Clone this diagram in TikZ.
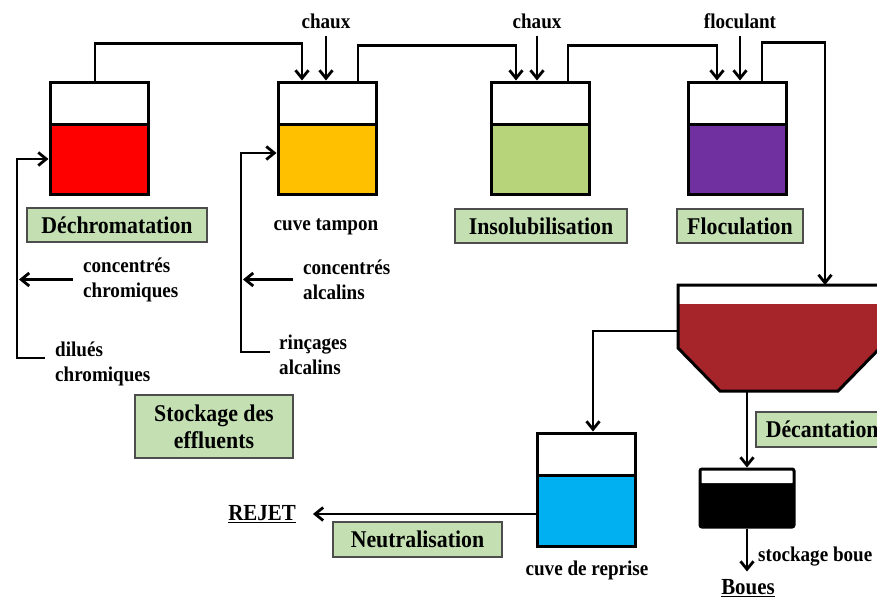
\documentclass[tikz,border=0pt]{standalone}
\usepackage{fontspec}
\setmainfont{Liberation Serif}[FakeStretch=0.91]
\usetikzlibrary{arrows.meta,calc}
\definecolor{cred}{HTML}{FF0000}
\definecolor{corange}{HTML}{FFC000}
\definecolor{clgreen}{HTML}{B8D47A}
\definecolor{cpurple}{HTML}{7030A0}
\definecolor{cbrown}{HTML}{A5252A}
\definecolor{cblue}{HTML}{00B0F0}
\definecolor{boxgreen}{HTML}{C4E0B3}
\definecolor{boxedge}{HTML}{4D4D4D}
\begin{document}
\begin{tikzpicture}[x=1pt,y=-1pt,
  tank/.style={draw,line width=3pt,minimum width=98pt,minimum height=112pt,inner sep=0pt,
    path picture={\fill[#1] ([yshift=-42pt]path picture bounding box.north west) rectangle (path picture bounding box.south east);
      \draw[line width=3pt] ([yshift=-42pt]path picture bounding box.north west) -- ([yshift=-42pt]path picture bounding box.north east);}},
  sludgetank/.style={draw,fill=black,line width=3pt,rounded corners=2pt,minimum width=94pt,minimum height=58pt,inner sep=0pt,
    path picture={\fill[white] (path picture bounding box.north west) rectangle ([yshift=-14pt]path picture bounding box.north east);}},
  lbl/.style={font=\fontsize{21}{25}\selectfont\bfseries,inner sep=0pt,align=left},
  procbox/.style={draw=boxedge,fill=boxgreen,line width=1.5pt,font=\fontsize{24}{27}\selectfont\bfseries,inner sep=0pt,align=center,minimum height=34pt},
  pipe/.style={line width=2.8pt},
  arr/.style={pipe,-{Straight Barb[length=8pt,width=13pt]}}]
\useasboundingbox (0,0) rectangle (877,602);
\clip (0,0) rectangle (877,602);

% tanks
\node[tank=cred] (t1) at (99,138) {};
\node[tank=corange] (t2) at (327,138) {};
\node[tank=clgreen] (t3) at (540.5,138) {};
\node[tank=cpurple] (t4) at (737.5,138) {};
\node[tank=cblue,minimum height=113pt] (t5) at (586,489.5) {};
\node[sludgetank] (sl) at (747,498) {};

% decanter
\fill[cbrown] (678,304) -- (678,348) -- (720,391) -- (838,391) -- (880,348) -- (880,304) -- cycle;
\draw[line width=3pt] (678,285) -- (678,348) -- (720,391) -- (838,391) -- (880,348) -- (880,285) -- cycle;
\coordinate (decin) at (825,285);
\coordinate (decleft) at (678,331);
\coordinate (decbot) at (747,391);

% reagent labels
\node[lbl] (ch1) at (326,21) {chaux};
\node[lbl] (ch2) at (537,21) {chaux};
\node[lbl] (flo) at (740,21) {floculant};
\draw[arr] ([yshift=-7pt]ch1.south) -- (ch1.south |- t2.north);
\draw[arr] ([yshift=-7pt]ch2.south) -- (ch2.south |- t3.north);
\draw[arr] ([yshift=-7pt]flo.south) -- (flo.south |- t4.north);

% pipes between tanks
\draw[arr] ([xshift=-4pt]t1.north) -- ++(0,-37) -| ([xshift=-25pt]t2.north);
\draw[arr] ([xshift=31pt]t2.north) -- ++(0,-35) -| ([xshift=-24.5pt]t3.north);
\draw[arr] ([xshift=27.5pt]t3.north) -- ++(0,-35) -| ([xshift=-20.5pt]t4.north);
\draw[arr] ([xshift=24.5pt]t4.north) -- ++(0,-38) -| (decin);
\draw[arr] (decleft) -| ([xshift=7pt]t5.north);
\draw[arr] (decbot) -- (decbot |- sl.north);

% process boxes
\node[procbox,minimum width=180pt] (dech) at (117,225) {Déchromatation};
\node[procbox,minimum width=172pt] (insol) at (541,226) {Insolubilisation};
\node[procbox,minimum width=126pt] (floc) at (740,226) {Floculation};
\node[procbox,minimum width=158pt,minimum height=63pt] (stock) at (214,426.5) {Stockage des\\effluents};
\node[procbox,anchor=west,text width=140pt,align=left,inner xsep=10pt,minimum height=35pt] (decant) at (755,429.5) {Décantation};
\node[procbox,minimum width=169pt,minimum height=35pt] (neutr) at (417.5,539.5) {Neutralisation};

% text labels
\node[lbl] (ctamp) at (326,227) {cuve tampon};
\node[lbl,anchor=west] (cc) at (83,279.5) {concentrés\\chromiques};
\node[lbl,anchor=west] (dc) at (55,363.5) {dilués\\chromiques};
\node[lbl,anchor=west] (ca) at (303,279.5) {concentrés\\alcalins};
\node[lbl,anchor=west] (ra) at (279,354.5) {rinçages\\alcalins};
\node[lbl] (crep) at (587,570) {cuve de reprise};
\node[lbl,font=\fontsize{23}{25}\selectfont\bfseries] (rejet) at (262,514) {\underline{REJET}};
\node[lbl,anchor=west] (stb) at (758,557) {stockage boue};
\node[lbl,font=\fontsize{23}{25}\selectfont\bfseries] (boues) at (748,588) {\underline{Boues}};

% inlets on the left
\coordinate (c1) at (45,358);
\coordinate (c2) at (270,352);
\draw[arr] (c1) -- ++(-28,0) |- ([yshift=-21pt]t1.west);
\draw[arr] ([xshift=-10pt]cc.west) -- ++(-54,0);
\draw[arr] (c2) -- ++(-29,0) |- ([yshift=-15pt]t2.west);
\draw[arr] ([xshift=-10pt]ca.west) -- ++(-50,0);

% outlets
\draw[arr] ([yshift=-24.5pt]t5.west) -- ([xshift=17pt]rejet.east);
\draw[arr] (sl.south) -- ++(0,43);
\end{tikzpicture}
\end{document}
